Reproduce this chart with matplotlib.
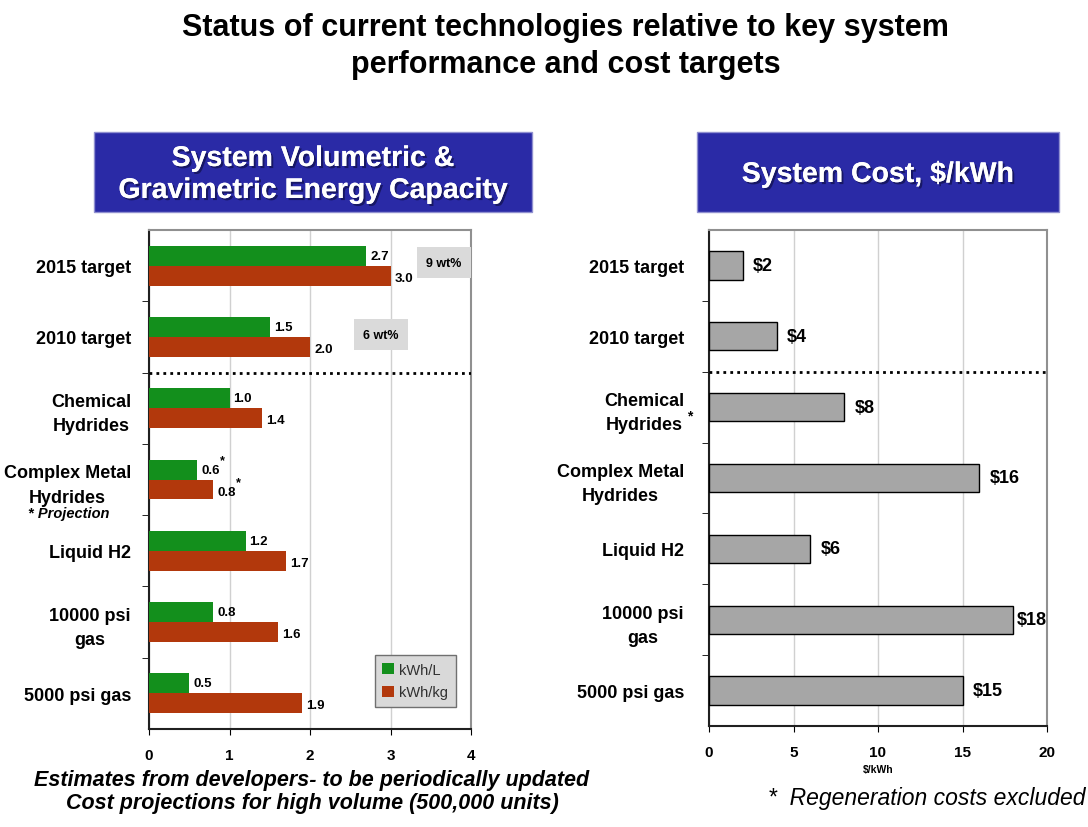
import numpy as np
import matplotlib
matplotlib.use("Agg")
import matplotlib.pyplot as plt
import matplotlib.patheffects as pe
from matplotlib.patches import Rectangle

plt.rcParams['font.family'] = ['Liberation Sans', 'DejaVu Sans']

# data
cats_left = ["2015 target", "2010 target", "Chemical\nHydrides", "Complex Metal\nHydrides",
             "Liquid H2", "10000 psi\ngas", "5000 psi gas"]
kwh_per_l = [2.7, 1.5, 1.0, 0.6, 1.2, 0.8, 0.5]
kwh_per_kg = [3.0, 2.0, 1.4, 0.8, 1.7, 1.6, 1.9]
starred_left = [3]  # projections

cats_right = ["2015 target", "2010 target", "Chemical\nHydrides", "Complex Metal\nHydrides",
              "Liquid H2", "10000 psi\ngas", "5000 psi gas"]
cost = [2, 4, 8, 16, 6, 18, 15]

wt_labels = ["9 wt%", "6 wt%"]

W, H = 1088, 828
fig = plt.figure(figsize=(W / 100, H / 100), dpi=100)
fig.patch.set_facecolor("white")

def box(x0, y0, x1, y1):
    return [x0 / W, 1 - y1 / H, (x1 - x0) / W, (y1 - y0) / H]

green = "#138f1c"
red = "#b2380c"
navy = "#2a2aa6"

# title
fig.text(0.52, 1 - 28 / H, "Status of current technologies relative to key system",
         ha="center", va="center", fontsize=22, fontweight="bold")
fig.text(0.52, 1 - 65 / H, "performance and cost targets",
         ha="center", va="center", fontsize=22, fontweight="bold")

# blue headers
for (x0, x1), txt in [((94, 532), "System Volumetric &\nGravimetric Energy Capacity"),
                      ((697, 1059), "System Cost, $/kWh")]:
    fig.patches.append(Rectangle((x0 / W, 1 - 213 / H), (x1 - x0) / W, 80 / H,
                                 transform=fig.transFigure, facecolor=navy,
                                 edgecolor="#9090d0", lw=1))
    t = fig.text((x0 + x1) / 2 / W, 1 - 176 / H, txt, ha="center", va="center",
                 color="white", fontsize=20.5, fontweight="bold", linespacing=1.3)
    t.set_path_effects([pe.withSimplePatchShadow(offset=(1.5, -1.5), shadow_rgbFace="#10104a",
                                                 alpha=0.7),
                        pe.Normal()])


def style_axes(a, cats, pad):
    a.set_yticks(np.arange(len(cats)))
    a.set_yticklabels(cats, fontsize=13, fontweight="bold", multialignment="center",
                      linespacing=1.55)
    a.set_yticks(np.arange(0.5, len(cats) - 1, 1), minor=True)
    a.tick_params(axis="y", which="major", length=0, pad=pad)
    a.tick_params(axis="y", which="minor", length=5, direction="out")
    a.tick_params(axis="x", length=4, labelsize=11, pad=10)
    for lab in a.get_xticklabels():
        lab.set_fontweight("bold")
    a.grid(axis="x", color="#d0d0d0", lw=1, zorder=0)
    a.axhline(1.5, color="black", ls=(0, (1, 1.5)), lw=2, zorder=4)
    for s in ["top", "right"]:
        a.spines[s].set_color("#909090")
        a.spines[s].set_linewidth(1.5)
    for s in ["left", "bottom"]:
        a.spines[s].set_linewidth(1.5)
        a.spines[s].set_color("#202020")


# ---------- left chart ----------
ax = fig.add_axes(box(149, 231, 471, 730))
y = np.arange(len(cats_left))
h = 0.28
ax.barh(y - h / 2, kwh_per_l, height=h, color=green, label="kWh/L", zorder=3)
ax.barh(y + h / 2, kwh_per_kg, height=h, color=red, label="kWh/kg", zorder=3)
for i in range(len(y)):
    ax.text(kwh_per_l[i] + 0.05, y[i] - h / 2, f"{kwh_per_l[i]:.1f}", va="center",
            fontsize=9.5, fontweight="bold")
    ax.text(kwh_per_kg[i] + 0.05, y[i] + h / 2 + 0.03, f"{kwh_per_kg[i]:.1f}", va="center",
            fontsize=9.5, fontweight="bold")
    if i in starred_left:
        ax.text(kwh_per_l[i] + 0.28, y[i] - h / 2 - 0.13, "*", va="center", fontsize=9,
                fontweight="bold")
        ax.text(kwh_per_kg[i] + 0.28, y[i] + h / 2 - 0.1, "*", va="center", fontsize=9,
                fontweight="bold")
ax.text(3.66, -0.04, wt_labels[0], ha="center", va="center", fontsize=9, fontweight="bold",
        bbox=dict(facecolor="#dadada", edgecolor="none", boxstyle="square,pad=0.75"), zorder=4)
ax.text(2.88, 0.97, wt_labels[1], ha="center", va="center", fontsize=9, fontweight="bold",
        bbox=dict(facecolor="#dadada", edgecolor="none", boxstyle="square,pad=0.75"), zorder=4)

ax.set_xlim(0, 4)
ax.set_ylim(len(y) - 0.5, -0.5)
ax.set_xticks([0, 1, 2, 3, 4])
style_axes(ax, cats_left, 13)
fig.text(28 / W, 1 - 514 / H, "* Projection", fontsize=10.5, fontweight="bold", style="italic",
         va="center")
leg = ax.legend(loc="lower right", bbox_to_anchor=(0.975, 0.03), fontsize=10.5,
                frameon=True, fancybox=False, handlelength=0.8, handleheight=0.8,
                handletextpad=0.4, borderpad=0.5, labelspacing=0.6)
leg.get_frame().set_facecolor("#d9d9d9")
leg.get_frame().set_edgecolor("#707070")
leg.get_frame().set_alpha(1)
for t in leg.get_texts():
    t.set_color("#303030")

# ---------- right chart ----------
ax2 = fig.add_axes(box(709, 231, 1047, 727))
y2 = np.arange(len(cats_right))
ax2.barh(y2, cost, height=0.4, color="#a6a6a6", edgecolor="black", lw=1, zorder=3)
for i, v in enumerate(cost):
    if v > 17:
        ax2.text(20, y2[i], f"${v}", va="center", ha="right", fontsize=13, fontweight="bold",
                 zorder=5)
    else:
        ax2.text(v + 0.6, y2[i], f"${v}", va="center", fontsize=13, fontweight="bold")
ax2.set_xlim(0, 20)
ax2.set_ylim(len(y2) - 0.5, -0.5)
ax2.set_xticks([0, 5, 10, 15, 20])
style_axes(ax2, cats_right, 18)
ax2.set_xlabel("$/kWh", fontsize=7.5, fontweight="bold", labelpad=3)
fig.text(687 / W, 1 - 416 / H, "*", fontsize=10, fontweight="bold", va="center")

# footnotes
fig.text(312 / W, 1 - 781 / H, "Estimates from developers- to be periodically updated",
         ha="center", va="center", fontsize=15.5, fontweight="bold", style="italic")
fig.text(312 / W, 1 - 804 / H, "Cost projections for high volume (500,000 units)",
         ha="center", va="center", fontsize=15.5, fontweight="bold", style="italic")
fig.text(1086 / W, 1 - 799 / H, "*  Regeneration costs excluded",
         ha="right", va="center", fontsize=16.5, style="italic")

fig.savefig("out.png", dpi=100)
